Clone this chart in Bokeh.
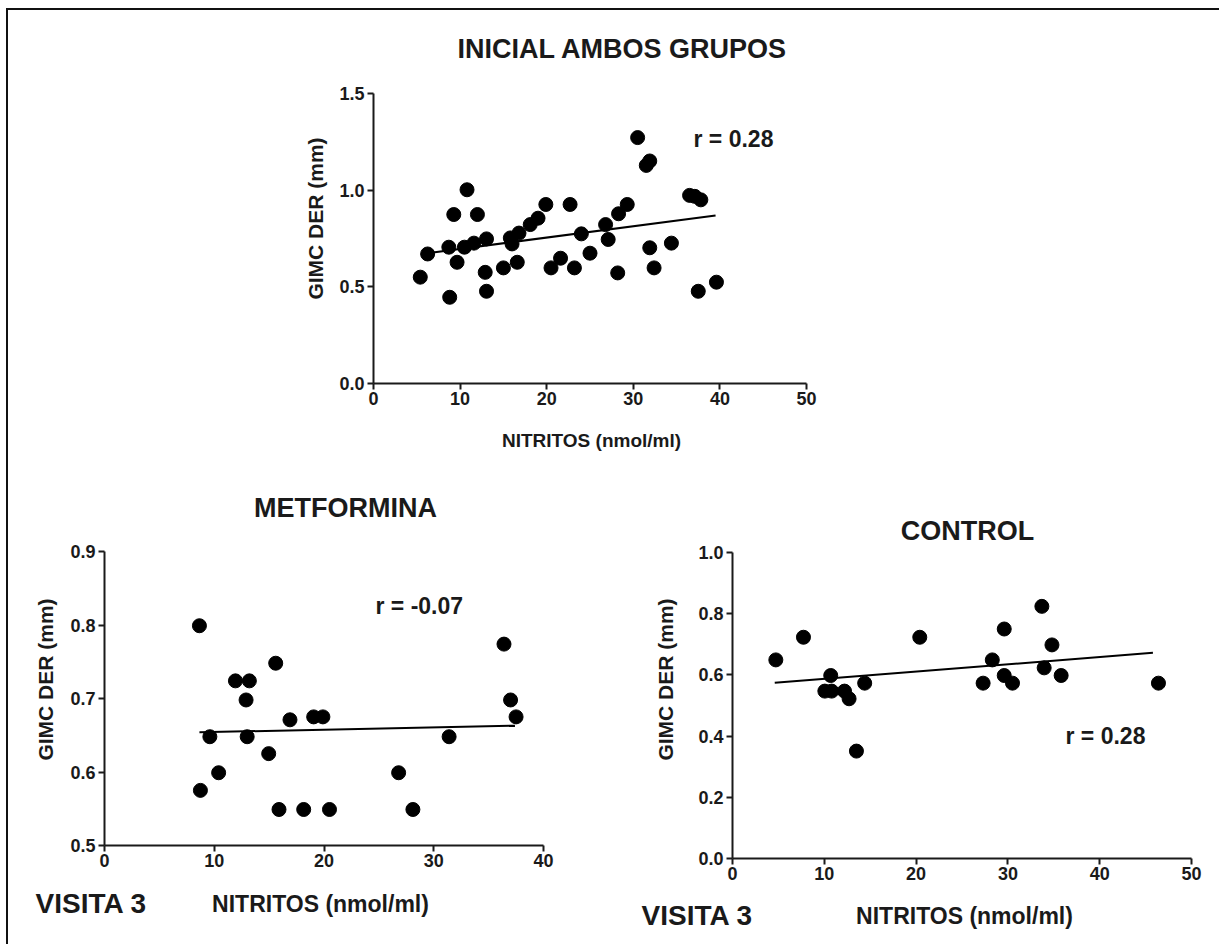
import math
from bokeh.plotting import figure
from bokeh.layouts import column, row
from bokeh.models import Range1d, FixedTicker, PrintfTickFormatter, Label
from bokeh.embed import file_html
from bokeh.resources import INLINE

# ---------------- data ----------------
top_x = [5.4, 6.25, 8.8, 8.7, 9.27, 9.65, 10.8, 10.5, 11.6, 12.0, 12.9, 13.05, 13.05,
         15.0, 15.8, 16.0, 16.6, 16.8, 18.1, 19.0, 19.9, 20.5, 21.6, 22.7, 23.2, 24.0,
         25.0, 26.8, 27.1, 28.2, 28.3, 29.3, 30.5, 31.5, 31.9, 31.9, 32.4, 34.4, 36.5,
         37.1, 37.8, 37.5, 39.6]
top_y = [0.55, 0.67, 0.446, 0.705, 0.874, 0.627, 1.002, 0.705, 0.726, 0.874, 0.575, 0.748,
         0.477, 0.598, 0.753, 0.722, 0.627, 0.778, 0.822, 0.855, 0.926, 0.598, 0.648, 0.926,
         0.598, 0.774, 0.674, 0.822, 0.745, 0.572, 0.878, 0.926, 1.272, 1.128, 1.151, 0.702,
         0.598, 0.726, 0.973, 0.968, 0.950, 0.477, 0.524]
top_fit_x = [6.2, 39.5]
top_fit_y = [0.674, 0.869]

met_x = [8.65, 8.74, 9.6, 10.4, 11.93, 13.2, 12.9, 13.0, 14.96, 15.6, 15.9, 16.9, 18.15,
         19.06, 19.9, 20.5, 26.8, 28.1, 31.4, 36.4, 37.0, 37.5]
met_y = [0.799, 0.575, 0.648, 0.599, 0.724, 0.724, 0.698, 0.648, 0.625, 0.748, 0.549, 0.671,
         0.549, 0.675, 0.675, 0.549, 0.599, 0.549, 0.648, 0.774, 0.698, 0.675]
met_fit_x = [8.65, 37.4]
met_fit_y = [0.654, 0.663]

ctl_x = [4.72, 7.73, 10.06, 10.7, 10.8, 12.2, 12.7, 13.5, 14.4, 20.4, 27.3, 28.3, 29.6,
         29.6, 30.5, 33.7, 33.95, 34.8, 35.8, 46.4]
ctl_y = [0.649, 0.723, 0.547, 0.598, 0.547, 0.547, 0.522, 0.351, 0.573, 0.723, 0.573, 0.649,
         0.75, 0.598, 0.573, 0.824, 0.623, 0.698, 0.598, 0.573]
ctl_fit_x = [4.6, 45.8]
ctl_fit_y = [0.574, 0.672]

top_xticks = [0, 10, 20, 30, 40, 50]
top_yticks = [0.0, 0.5, 1.0, 1.5]
met_xticks = [0, 10, 20, 30, 40]
met_yticks = [0.5, 0.6, 0.7, 0.8, 0.9]
ctl_xticks = [0, 10, 20, 30, 40, 50]
ctl_yticks = [0.0, 0.2, 0.4, 0.6, 0.8, 1.0]

titles = ["INICIAL AMBOS GRUPOS", "METFORMINA", "CONTROL"]
r_texts = ["r = 0.28", "r = -0.07", "r = 0.28"]
x_title = "NITRITOS (nmol/ml)"
y_title = "GIMC DER (mm)"
visit = "VISITA 3"

FONT = "Liberation Sans"
INK = "#1a1a1a"


class Panel:
    """A figure whose frame fills the whole canvas; axes are pinned at fixed data
    locations so that every text can sit inside the frame."""

    def __init__(self, page_left, page_top, w, h, data_l, data_t, data_w, data_h,
                 xr, yr, xticks, yticks, yfmt):
        self.page_left, self.page_top, self.h = page_left, page_top, h
        sx = data_w / (xr[1] - xr[0])
        sy = data_h / (yr[1] - yr[0])
        x0 = xr[0] - data_l / sx
        y1 = yr[1] + data_t / sy
        p = figure(width=w, height=h,
                   x_range=Range1d(x0, x0 + w / sx), y_range=Range1d(y1 - h / sy, y1),
                   output_backend="svg", toolbar_location=None,
                   min_border=0, min_border_left=0, min_border_right=0,
                   min_border_top=0, min_border_bottom=0)
        p.outline_line_color = None
        p.grid.visible = False
        p.background_fill_color = "white"
        p.border_fill_color = "white"
        xa, ya = p.xaxis[0], p.yaxis[0]
        xa.fixed_location = yr[0]
        ya.fixed_location = xr[0]
        xa.bounds = xr
        ya.bounds = yr
        for ax in (xa, ya):
            ax.axis_line_width = 2
            ax.axis_line_color = INK
            ax.major_tick_line_width = 2
            ax.major_tick_line_color = INK
            ax.major_tick_out = 6
            ax.major_tick_in = 0
            ax.minor_tick_line_color = None
            ax.major_label_text_font = FONT
            ax.major_label_text_font_style = "bold"
            ax.major_label_text_font_size = "18px"
            ax.major_label_text_color = INK
        xa.ticker = FixedTicker(ticks=xticks)
        ya.ticker = FixedTicker(ticks=yticks)
        ya.formatter = PrintfTickFormatter(format=yfmt)
        xa.formatter = PrintfTickFormatter(format="%d")
        xa.major_label_standoff = 2
        ya.major_label_standoff = 3
        self.p = p

    def text(self, px, py, text, size, align="center", angle=0.0):
        self.p.add_layout(Label(x=px - self.page_left, y=self.h - (py - self.page_top),
                                x_units="screen", y_units="screen", text=text,
                                text_font=FONT, text_font_style="bold",
                                text_font_size=size, text_color=INK,
                                text_align=align, text_baseline="middle", angle=angle))


# content origin on the page (inside the frame line)
OX, OY = 8, 10
SPLIT_Y, SPLIT_X = 470, 600

# ---------------- top chart ----------------
top = Panel(OX, OY, 1219 - OX, SPLIT_Y - OY, 373 - OX, 93 - OY, 433, 290,
            (0, 50), (0, 1.5), top_xticks, top_yticks, "%.1f")
top.p.line(top_fit_x, top_fit_y, line_color="black", line_width=2)
top.p.scatter(top_x, top_y, size=14, color="black")
top.text(622, 48, titles[0], "27px")
top.text(315, 218, y_title, "21px", angle=math.pi / 2)
top.text(591, 440, x_title, "19px")
top.text(693, 138, r_texts[0], "23px", align="left")

# ---------------- bottom-left chart ----------------
met = Panel(OX, SPLIT_Y, SPLIT_X - OX, 944 - SPLIT_Y, 104 - OX, 551 - SPLIT_Y, 439, 294,
            (0, 40), (0.5, 0.9), met_xticks, met_yticks, "%.1f")
met.p.line(met_fit_x, met_fit_y, line_color="black", line_width=2)
met.p.scatter(met_x, met_y, size=14, color="black")
met.text(345, 507, titles[1], "27px")
met.text(45, 679, y_title, "21px", angle=math.pi / 2)
met.text(320, 903, x_title, "23px")
met.text(35, 903, visit, "28px", align="left")
met.text(375, 605, r_texts[1], "23px", align="left")

# ---------------- bottom-right chart ----------------
ctl = Panel(SPLIT_X, SPLIT_Y, 1219 - SPLIT_X, 944 - SPLIT_Y, 732 - SPLIT_X, 552 - SPLIT_Y,
            459, 306, (0, 50), (0, 1.0), ctl_xticks, ctl_yticks, "%.1f")
ctl.p.line(ctl_fit_x, ctl_fit_y, line_color="black", line_width=2)
ctl.p.scatter(ctl_x, ctl_y, size=14, color="black")
ctl.text(967, 530, titles[2], "27px")
ctl.text(665, 679, y_title, "21px", angle=math.pi / 2)
ctl.text(964, 915, x_title, "23px")
ctl.text(641, 915, visit, "28px", align="left")
ctl.text(1065, 735, r_texts[2], "23px", align="left")

layout = column(top.p, row(met.p, ctl.p),
                styles={"margin-top": "8px", "margin-left": "6px",
                        "border-top": "2px solid #111", "border-left": "2px solid #111",
                        "background-color": "white"})

with open("out.html", "w") as f:
    f.write(file_html(layout, INLINE))
